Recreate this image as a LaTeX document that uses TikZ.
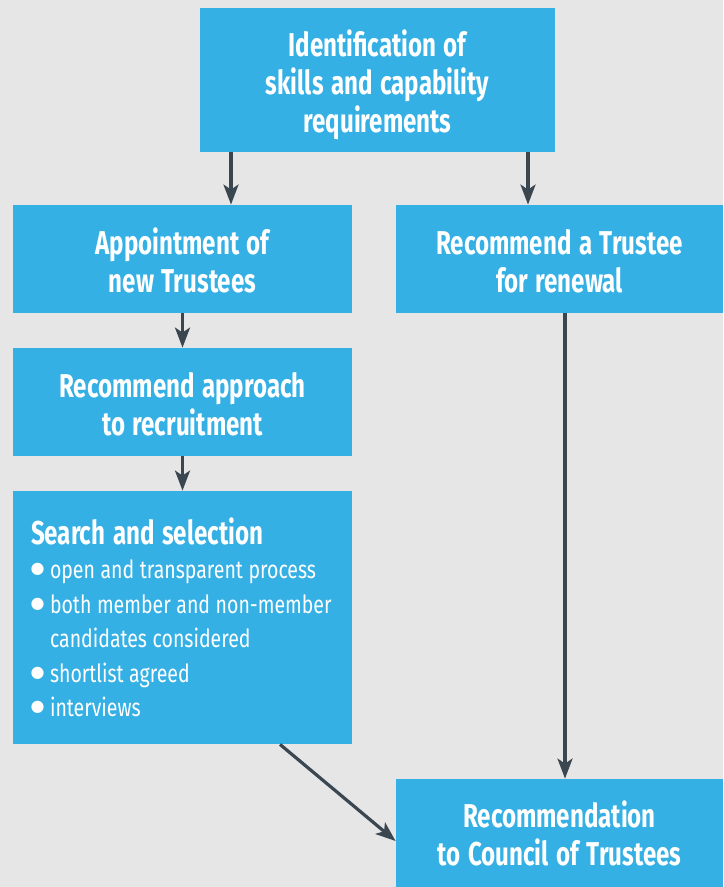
\documentclass[tikz,border=0pt]{standalone}
\usepackage{fontspec}
\setmainfont{Fira Sans}[FakeStretch=0.78,BoldFeatures={FakeStretch=0.73}]
\newfontfamily\bulletfont{DejaVu Sans}
\usepackage{tikz}
\usetikzlibrary{arrows.meta}
\definecolor{boxblue}{HTML}{35B0E5}
\definecolor{arrowgrey}{HTML}{3B4750}
\definecolor{bggrey}{HTML}{E6E6E6}
\newcommand{\sbullet}{\makebox[9.5pt][l]{\bulletfont\fontsize{8}{8}\selectfont\raisebox{2.6pt}{\kern-0.2pt ●}}}
\newcommand{\titlefont}{\fontsize{16.5}{19}\selectfont\bfseries\spaceskip=3.8pt\relax}
\newcommand{\listfont}{\fontsize{12.5}{17.25}\selectfont\spaceskip=2.8pt\relax}

\begin{document}
\begin{tikzpicture}[x=0.5pt,y=-0.5pt]
	\fill[bggrey] (0,0) rectangle (723,887);
	\begin{scope}[text=white]
	\tikzstyle{every node}=[fill=boxblue,inner sep=0pt,align=center,font=\titlefont]
	\node[minimum width=177.5pt,minimum height=72pt] (ident) at (377.5,80) {\rule{0pt}{18pt}Identification of\\skills and capability\\requirements};
	\node[minimum width=169.5pt,minimum height=54pt] (appoint) at (182.5,259) {\rule{0pt}{15pt}Appointment of\\new Trustees};
	\node[minimum width=163.5pt,minimum height=54pt] (renew) at (559.5,259) {\rule{0pt}{15pt}Recommend a Trustee\\for renewal};
	\node[minimum width=169.5pt,minimum height=54pt] (approach) at (182.5,402) {\rule{0pt}{15pt}Recommend approach\\to recruitment};
	\node[minimum width=169.5pt,minimum height=126.5pt,inner xsep=9pt,text width=151.5pt,align=left,font=\listfont] (search) at (182.5,617.5) {\spaceskip=2.8pt\relax{\titlefont Search and selection}\\
		\sbullet open and transparent process\\
		\sbullet both member and non-member\\
		\hspace*{9.5pt}candidates considered\\
		\sbullet shortlist agreed\\
		\sbullet interviews};
	\node[minimum width=163.5pt,minimum height=54pt] (council) at (559.5,833) {\rule{0pt}{14pt}Recommendation\\to Council of Trustees};
	\end{scope}
	\tikzstyle{flow}=[draw=arrowgrey,line width=1.6pt,-{Stealth[length=10pt,width=7.5pt,inset=2.5pt]}]
	\draw[flow] (ident.south -| 231,0) -- (appoint.north -| 231,0);
	\draw[flow] (ident.south -| 528,0) -- (renew.north -| 528,0);
	\draw[flow] (appoint.south) -- (approach.north);
	\draw[flow] (approach.south) -- (search.north);
	\draw[flow] (renew.south -| 565,0) -- (council.north -| 565,0);
	\draw[flow] (search.south -| 280,0) -- (council.west |- 0,841);
\end{tikzpicture}
\end{document}
